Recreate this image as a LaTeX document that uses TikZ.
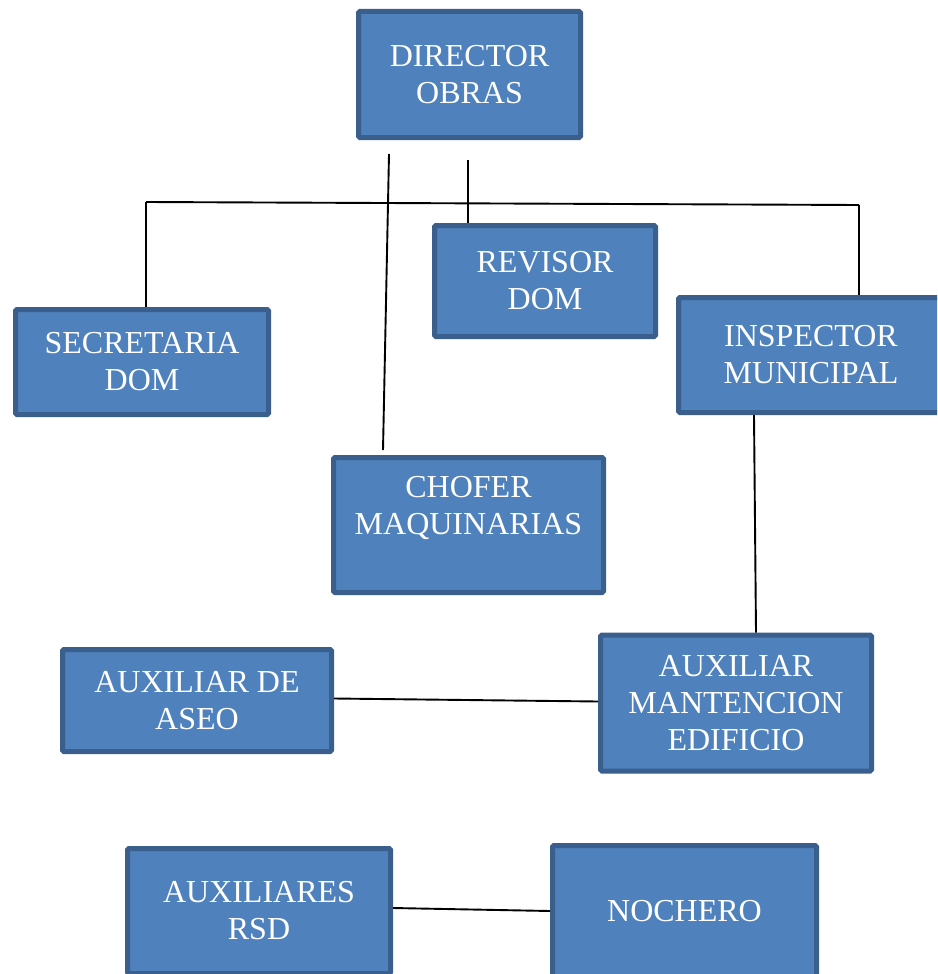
\documentclass[tikz,border=0pt]{standalone}
\usepackage{fontspec}
\setmainfont{Liberation Serif}
\definecolor{boxfill}{HTML}{4F81BD}
\definecolor{boxline}{HTML}{3A5F8C}
\begin{document}
\begin{tikzpicture}[x=1pt,y=-1pt,
  box/.style={draw=boxline, fill=boxfill, line width=5pt, rounded corners=1.5pt,
    text=white, align=center, font=\fontsize{32}{37}\selectfont, inner sep=0pt},
  lbl/.style={text=white, align=center, font=\fontsize{32}{37}\selectfont, inner sep=0pt},
  conn/.style={draw=black, line width=1.9pt}]
\useasboundingbox (0,0) rectangle (937,974);
\clip (0,0) rectangle (937,974);
\node[box, minimum width=222pt, minimum height=126pt] (dir) at (469.5,74.5) {DIRECTOR\\OBRAS};
\node[box, minimum width=221pt, minimum height=111pt] (rev) at (545,281) {REVISOR\\DOM};
\node[box, minimum width=253pt, minimum height=105pt] (sec) at (142,362) {SECRETARIA\\DOM};
\node[box, minimum width=265pt, minimum height=115pt] (insp) at (811,355) {INSPECTOR\\MUNICIPAL};
\node[box, minimum width=270pt, minimum height=135pt] (chof) at (468.5,525) {};
\node[lbl] (choftxt) at (468.5,508) {CHOFER\\MAQUINARIAS};
\node[box, minimum width=269pt, minimum height=102pt] (aseo) at (197,700.5) {AUXILIAR DE\\ASEO};
\node[box, minimum width=271pt, minimum height=136pt] (mant) at (736,703) {AUXILIAR\\MANTENCION\\EDIFICIO};
\node[box, minimum width=263pt, minimum height=125pt] (rsd) at (259,911) {AUXILIARES\\RSD};
\node[box, minimum width=264pt, minimum height=131pt] (noch) at (684.5,911) {NOCHERO};
% connectors
\coordinate (hl) at (146,202);
\coordinate (hr) at (859,205);
\coordinate (c1) at (389,154);
\coordinate (c2) at (468,160);
\draw[conn] (hl) -- (hr);
\draw[conn] (hl) -- (hl |- sec.north);
\draw[conn] (hr) -- (hr |- insp.north);
\draw[conn] (c1) -- ([xshift=-85.5pt,yshift=5pt]chof.north);
\draw[conn] (c2) -- (c2 |- rev.north);
\draw[conn] ([xshift=-57pt]insp.south) -- ([xshift=20pt]mant.north);
\draw[conn] ([yshift=2pt]aseo.east) -- ([yshift=1.5pt]mant.west);
\draw[conn] ([yshift=3pt]rsd.east) -- (noch.west);
\end{tikzpicture}
\end{document}
